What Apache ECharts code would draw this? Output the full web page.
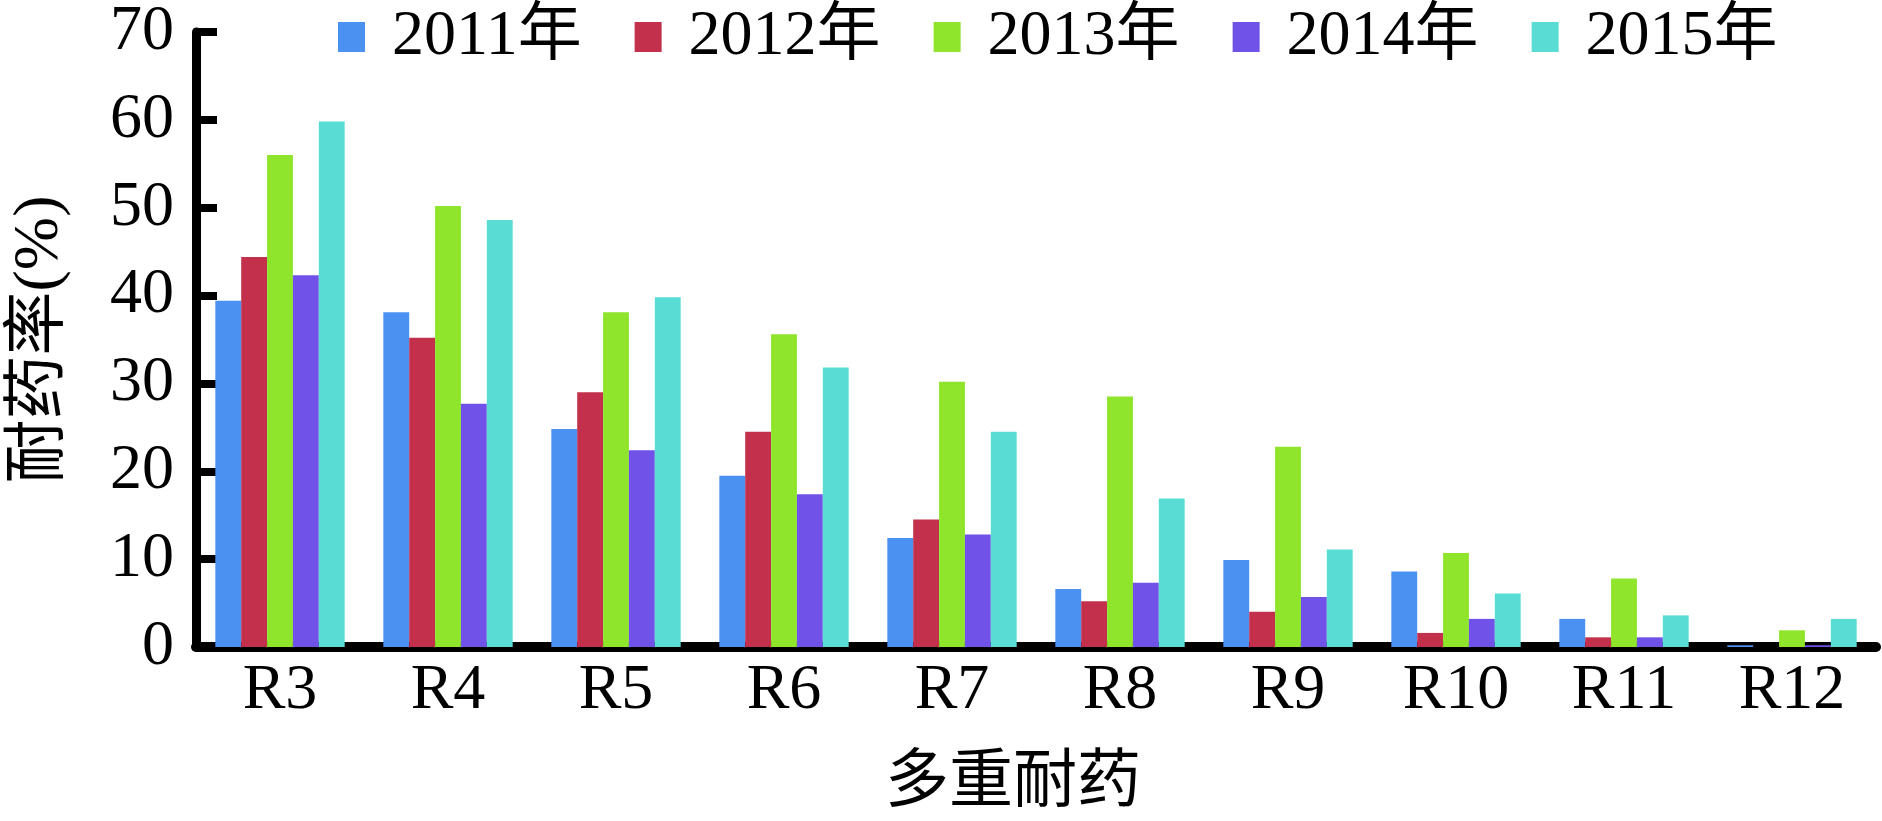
<!DOCTYPE html>
<html>
<head>
<meta charset="utf-8">
<script src="https://cdn.jsdelivr.net/npm/echarts@6/dist/echarts.min.js"></script>
<style>html,body{margin:0;padding:0;background:#fff;}#c{width:1882px;height:821px;}</style>
</head>
<body>
<div id="c"></div>
<script>
const categories = ['R3','R4','R5','R6','R7','R8','R9','R10','R11','R12'];
const seriesNames = ['2011年','2012年','2013年','2014年','2015年'];
const v2011 = [39.4, 38.1, 24.8, 19.5, 12.4, 6.6, 9.9, 8.6, 3.2, 0.2];
const v2012 = [44.4, 35.2, 29.0, 24.5, 14.5, 5.2, 4.0, 1.6, 1.1, 0];
const v2013 = [56.0, 50.2, 38.1, 35.6, 30.2, 28.5, 22.8, 10.7, 7.8, 1.9];
const v2014 = [42.3, 27.7, 22.4, 17.4, 12.8, 7.3, 5.7, 3.2, 1.1, 0.2];
const v2015 = [59.8, 48.6, 39.8, 31.8, 24.5, 16.9, 11.1, 6.1, 3.6, 3.2];
const yTicks = [0, 10, 20, 30, 40, 50, 60, 70];
const colors = ['#4B91F1', '#C2304B', '#8FE42C', '#7052E8', '#59DCD4'];
const allValues = [v2011, v2012, v2013, v2014, v2015];

const FONT = '"Liberation Serif", "Times New Roman", "Noto Sans CJK SC", serif';
const chart = echarts.init(document.getElementById('c'));
chart.setOption({
  animation: false,
  color: colors,
  textStyle: { fontFamily: FONT, color: '#000' },
  legend: {
    left: 333, top: 0,
    icon: 'rect', itemWidth: 27, itemHeight: 30, itemGap: 53,
    textStyle: { fontSize: 64, fontFamily: FONT, color: '#000', padding: [0, 0, 0, 22] },
    data: seriesNames
  },
  grid: { left: 186, right: 6, top: 23, bottom: 169, containLabel: false },
  xAxis: {
    type: 'category', data: categories,
    name: '多重耐药', nameLocation: 'middle', nameGap: 105,
    nameTextStyle: { fontSize: 64, fontFamily: FONT, color: '#000', padding: [0, 46, 0, 0] },
    axisLine: { lineStyle: { color: '#000', width: 10 } },
    axisTick: { inside: true, length: 18, lineStyle: { color: '#000', width: 8 } },
    axisLabel: { fontSize: 64, fontFamily: FONT, color: '#000', margin: 12 }
  },
  yAxis: {
    type: 'value', min: yTicks[0], max: yTicks[yTicks.length - 1], interval: 10,
    name: '耐药率(%)', nameLocation: 'middle', nameGap: 124,
    nameTextStyle: { fontSize: 64, fontFamily: FONT, color: '#000' },
    axisLine: { show: true, lineStyle: { color: '#000', width: 9 } },
    axisTick: { show: true, inside: true, length: 21, lineStyle: { color: '#000', width: 8 } },
    axisLabel: { fontSize: 64, fontFamily: FONT, color: '#000', margin: 22 },
    splitLine: { show: false }
  },
  series: seriesNames.map((n, i) => ({
    name: n, type: 'bar', data: allValues[i],
    barGap: '0%', barCategoryGap: '23%',
    itemStyle: { color: colors[i] }
  }))
});
</script>
</body>
</html>
